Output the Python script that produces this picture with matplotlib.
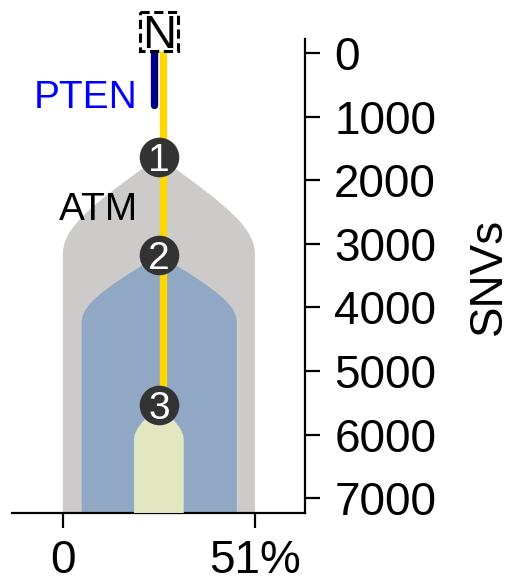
import matplotlib
matplotlib.use("Agg")
import matplotlib.pyplot as plt
from matplotlib.path import Path
from matplotlib.patches import PathPatch, Rectangle

plt.rcParams['font.family'] = ['Liberation Sans', 'DejaVu Sans']

# clones: name, apex SNV (node), full-width SNV, left, right, colour
clone_ids = [1, 2, 3]
clone_top = [1635, 3176, 5535]
clone_full = [3176, 4245, 6085]
clone_left = [0, 5.0, 18.9]
clone_right = [51, 46.2, 32.1]
clone_colors = ['#cccbca', '#90a8c3', '#e3e7c1']

# mutation branches
trunk_x = 26.6
trunk_snv = [-47, 5535]
pten_x = 24.2
pten_snv = [-47, 820]

node_x = 25.5
ymax_snv = 7233

xticks = [0, 51]
xticklabels = ['0', '51%']
yticks = [0, 1000, 2000, 3000, 4000, 5000, 6000, 7000]


def clone_path(top, full, left, right, bottom):
    c = (left + right) / 2
    hw = (right - left) / 2
    d = full - top
    verts = [
        (c, top),
        (c + 0.8 * hw, top + 0.55 * d), (right, top + 0.75 * d), (right, full),
        (right, bottom),
        (left, bottom),
        (left, full),
        (left, top + 0.75 * d), (c - 0.8 * hw, top + 0.55 * d), (c, top),
        (c, top),
    ]
    codes = [Path.MOVETO,
             Path.CURVE4, Path.CURVE4, Path.CURVE4,
             Path.LINETO, Path.LINETO, Path.LINETO,
             Path.CURVE4, Path.CURVE4, Path.CURVE4,
             Path.CLOSEPOLY]
    return Path(verts, codes)


fig = plt.figure(figsize=(5.27, 5.84), dpi=100)
ax = fig.add_axes([0.0228, 0.1216, 0.5559, 0.8116])

for i in range(len(clone_ids)):
    p = clone_path(clone_top[i], clone_full[i], clone_left[i], clone_right[i], ymax_snv + 50)
    ax.add_patch(PathPatch(p, facecolor=clone_colors[i], edgecolor='none', zorder=1 + i))

ax.plot([trunk_x, trunk_x], trunk_snv, color='#ffd700', lw=5.3, solid_capstyle='butt', zorder=5)
ax.plot([pten_x, pten_x], pten_snv, color='#000080', lw=5.3, solid_capstyle='round', zorder=5)

# normal node box
ax.add_patch(Rectangle((20.5, -645), 10.0, 614, facecolor='white', edgecolor='black',
                       lw=2.2, ls=(0, (3, 1.5)), clip_on=False, zorder=8))
ax.text(node_x, -80, 'N', fontsize=34, ha='center', va='baseline', zorder=9, clip_on=False)

for i in range(len(clone_ids)):
    ax.plot(node_x, clone_top[i], 'o', ms=28.5, color='#333333', mec='none', zorder=6)
    ax.text(node_x, clone_top[i] + 220, str(clone_ids[i]), color='white', fontsize=28,
            ha='center', va='baseline', zorder=7)

ax.text(19.9, 645, 'PTEN', color='#0000ff', fontsize=28, ha='right', va='center_baseline')
ax.text(19.9, 2625, 'ATM', color='black', fontsize=28, ha='right', va='baseline', zorder=9)

ax.set_xlim(-13.5, 64.3)
ax.set_ylim(ymax_snv, -220)

ax.spines['left'].set_visible(False)
ax.spines['top'].set_visible(False)
ax.spines['right'].set_linewidth(1.6)
ax.spines['bottom'].set_linewidth(1.6)

ax.yaxis.tick_right()
ax.yaxis.set_label_position('right')
ax.set_yticks(yticks)
ax.set_yticklabels([str(v) for v in yticks])
ax.set_xticks(xticks)
ax.set_xticklabels(xticklabels)
ax.tick_params(axis='both', labelsize=33, length=11, width=1.6)
ax.tick_params(axis='y', pad=10)
ax.tick_params(axis='x', pad=8)
ax.set_ylabel('SNVs', fontsize=33, labelpad=22)

fig.savefig('out.png', dpi=100)
